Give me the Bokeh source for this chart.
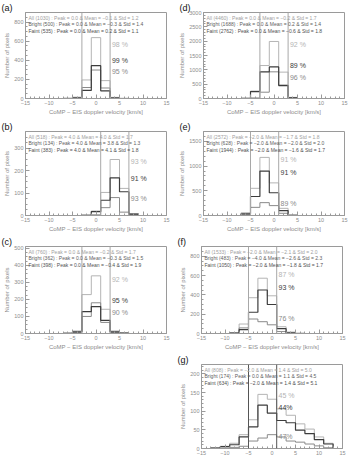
from bokeh.plotting import figure
from bokeh.layouts import column, row, Spacer
from bokeh.models import FixedTicker, Span, Label
from bokeh.core.properties import value
from bokeh.embed import file_html
from bokeh.resources import INLINE

# ---------------- data ----------------
bin_centers = [-14, -12, -10, -8, -6, -4, -2, 0, 2, 4, 6, 8, 10, 12, 14]
x_ticks = [-15, -10, -5, 0, 5, 10, 15]
x_label = "CoMP − EIS doppler velocity [km/s]"
y_label = "Number of pixels"

a_all    = [0, 0, 0, 0, 2, 14, 194, 637, 187, 12, 1, 0, 0, 0, 0]
a_bright = [0, 0, 0, 0, 2, 10, 115, 298, 110, 8, 1, 0, 0, 0, 0]
a_faint  = [0, 0, 0, 0, 0, 3, 85, 343, 80, 3, 0, 0, 0, 0, 0]
a_legend = ["All (1030) : Peak = 0.0 & Mean = −0.1 & Std = 1.2",
            "Bright (500) : Peak = 0.0 & Mean = −0.3 & Std = 1.4",
            "Faint (535) : Peak = 0.0 & Mean = 0.2 & Std = 1.1"]
a_pct = ["98 %", "99 %", "95 %"]
a_pct_y = [570, 395, 280]

b_all    = [0, 0, 0, 0, 0, 0, 2, 20, 103, 250, 121, 8, 0, 0, 0]
b_bright = [0, 0, 0, 0, 0, 0, 0, 3, 35, 80, 15, 2, 0, 0, 0]
b_faint  = [0, 0, 0, 0, 0, 0, 1, 17, 68, 168, 106, 6, 0, 0, 0]
b_legend = ["All (518) : Peak = 4.0 & Mean = 4.0 & Std = 1.7",
            "Bright (134) : Peak = 4.0 & Mean = 3.8 & Std = 1.3",
            "Faint (383) : Peak = 4.0 & Mean = 4.1 & Std = 1.8"]
b_pct = ["93 %", "91 %", "93 %"]
b_pct_y = [240, 164, 77]

c_all    = [0, 0, 0, 0, 2, 15, 228, 338, 142, 15, 3, 0, 0, 0, 0]
c_bright = [0, 0, 0, 0, 1, 5, 100, 180, 65, 5, 1, 0, 0, 0, 0]
c_faint  = [0, 0, 0, 0, 1, 10, 128, 158, 77, 10, 2, 0, 0, 0, 0]
c_legend = ["All (760) : Peak = 0.0 & Mean = −0.2 & Std = 1.7",
            "Bright (362) : Peak = 0.0 & Mean = −0.3 & Std = 1.5",
            "Faint (398) : Peak = 0.0 & Mean = −0.4 & Std = 1.9"]
c_pct = ["92 %", "95 %", "90 %"]
c_pct_y = [316, 192, 124]

d_all    = [0, 0, 0, 0, 5, 260, 1150, 1990, 920, 40, 0, 0, 0, 0, 0]
d_bright = [0, 0, 0, 0, 0, 20, 220, 930, 470, 20, 0, 0, 0, 0, 0]
d_faint  = [0, 0, 0, 0, 5, 240, 930, 1100, 450, 20, 0, 0, 0, 0, 0]
d_legend = ["All (4460) : Peak = 0.0 & Mean = −0.2 & Std = 1.7",
            "Bright (1688) : Peak = 0.0 & Mean = 0.2 & Std = 1.4",
            "Faint (2762) : Peak = 0.0 & Mean = −0.6 & Std = 1.8"]
d_pct = ["92 %", "89 %", "96 %"]
d_pct_y = [1870, 1140, 730]

e_all    = [0, 0, 0, 0, 55, 550, 1176, 660, 145, 8, 0, 0, 0, 0, 0]
e_bright = [0, 0, 0, 0, 20, 165, 260, 200, 45, 3, 0, 0, 0, 0, 0]
e_faint  = [0, 0, 0, 0, 35, 385, 900, 460, 100, 5, 0, 0, 0, 0, 0]
e_legend = ["All (2572) : Peak = −2.0 & Mean = −1.7 & Std = 1.8",
            "Bright (628) : Peak = −2.0 & Mean = −2.0 & Std = 2.0",
            "Faint (1944) : Peak = −2.0 & Mean = −1.6 & Std = 1.7"]
e_pct = ["91 %", "91 %", "89 %"]
e_pct_y = [1136, 862, 242]

f_all    = [0, 0, 0, 10, 98, 370, 572, 390, 70, 15, 2, 0, 0, 0, 0]
f_bright = [0, 0, 0, 8, 58, 150, 122, 90, 20, 10, 2, 0, 0, 0, 0]
f_faint  = [0, 0, 0, 2, 40, 220, 450, 300, 50, 5, 0, 0, 0, 0, 0]
f_legend = ["All (1533) : Peak = −2.0 & Mean = −2.1 & Std = 2.0",
            "Bright (483) : Peak = −4.0 & Mean = −2.6 & Std = 2.3",
            "Faint (1050) : Peak = −2.0 & Mean = −1.8 & Std = 1.7"]
f_pct = ["87 %", "93 %", "76 %"]
f_pct_y = [607, 477, 151]

g_all    = [0, 2, 6, 14, 37, 77, 145, 132, 106, 89, 66, 52, 31, 14, 0]
g_bright = [0, 0, 1, 3, 6, 20, 28, 37, 31, 20, 17, 12, 7, 2, 0]
g_faint  = [0, 1, 5, 10, 31, 58, 116, 95, 75, 69, 49, 40, 24, 12, 0]
g_legend = ["All (808) : Peak = −2.0 & Mean = 1.4 & Std = 5.0",
            "Bright (174) : Peak = 0.0 & Mean = 1.1 & Std = 4.5",
            "Faint (634) : Peak = −2.0 & Mean = 1.4 & Std = 5.1"]
g_pct = ["45 %", "44%", "47%"]
g_pct_y = [143, 110, 33]

# ---------------- style ----------------
FONT = "Liberation Sans"
LIGHT = "#b4b4b4"
MED = "#8a8a8a"
DARK = "#3c3c3c"
AXIS = "#9a9a9a"
VLINE = "#a8a8a8"


def make_panel(tag, all_v, bright_v, faint_v, peak, ymax, ytick_step, yminor_step,
               legend, pct, pct_y, top, fh, bottom, right, show_xlabel=True,
               vline_color=VLINE):
    p = figure(frame_width=141, frame_height=fh, title=tag,
               min_border_left=25, min_border_right=right,
               min_border_top=top, min_border_bottom=bottom,
               x_range=(-15, 15), y_range=(0, ymax),
               output_backend="svg", toolbar_location=None)
    p.title.align = "left"
    p.title.offset = -24
    p.title.standoff = 0
    p.title.text_font = FONT
    p.title.text_font_size = "9px"
    p.title.text_font_style = "normal"
    p.title.text_color = "#111111"
    p.title.text_line_height = 0.9
    p.xgrid.visible = False
    p.ygrid.visible = False
    p.outline_line_color = AXIS
    p.outline_line_width = 1

    yt = list(range(0, int(ymax) + 1, ytick_step))
    ym = list(range(0, int(ymax) + 1, yminor_step))
    p.xaxis.ticker = FixedTicker(ticks=x_ticks, minor_ticks=list(range(-15, 16)))
    p.yaxis.ticker = FixedTicker(ticks=yt, minor_ticks=ym)
    for ax in (p.xaxis[0], p.yaxis[0]):
        ax.axis_line_color = AXIS
        ax.major_tick_line_color = AXIS
        ax.minor_tick_line_color = AXIS
        ax.major_tick_in = 4
        ax.major_tick_out = 0
        ax.minor_tick_in = 2
        ax.minor_tick_out = 0
        ax.major_label_text_font = FONT
        ax.major_label_text_font_size = "5.5px"
        ax.major_label_text_color = "#8c8c8c"
        ax.major_label_standoff = 2
        ax.axis_label_text_font = FONT
        ax.axis_label_text_font_size = "6px"
        ax.axis_label_text_font_style = "normal"
        ax.axis_label_text_color = "#8c8c8c"
        ax.axis_label_standoff = 1
    p.xaxis.major_label_overrides = {t: str(t).replace("-", "−") for t in x_ticks}
    if show_xlabel:
        p.xaxis.axis_label = x_label
    p.yaxis.axis_label = y_label

    for loc in (peak - 3, peak + 3):
        p.add_layout(Span(location=loc, dimension="height", line_color=vline_color, line_width=1))

    p.step(x=bin_centers, y=all_v, mode="center", line_color=LIGHT, line_width=1)
    p.step(x=bin_centers, y=bright_v, mode="center", line_color=MED, line_width=1)
    p.step(x=bin_centers, y=faint_v, mode="center", line_color=DARK, line_width=1.2)

    leg_colors = ["#a0a0a0", "#606060", "#505050"]
    for i, (txt, col) in enumerate(zip(legend, leg_colors)):
        p.add_layout(Label(x=3, y=fh - 5 - 6.5 * i, x_units="screen", y_units="screen",
                           text=txt, text_font=FONT, text_font_size="5px",
                           text_color=col, text_baseline="middle"))

    pct_colors = [LIGHT, DARK, MED]
    p.text(x=[peak + 3.4] * 3, y=pct_y, text=pct, text_color=pct_colors,
           text_font=value(FONT), text_font_size="7px", text_baseline="middle")
    return p


pa = make_panel("(a)", a_all, a_bright, a_faint, 0, 900, 200, 50, a_legend, a_pct, a_pct_y,
                12, 86, 18, 10)
pd_ = make_panel("(d)", d_all, d_bright, d_faint, 0, 3000, 500, 100, d_legend, d_pct, d_pct_y,
                 12, 86, 18, 9)
pb = make_panel("(b)", b_all, b_bright, b_faint, 4, 375, 100, 25, b_legend, b_pct, b_pct_y,
                14, 84, 17, 10)
pe = make_panel("(e)", e_all, e_bright, e_faint, -2, 1700, 500, 100, e_legend, e_pct, e_pct_y,
                14, 84, 17, 9)
pc = make_panel("(c)", c_all, c_bright, c_faint, 0, 510, 100, 25, c_legend, c_pct, c_pct_y,
                12, 87, 19, 10)
pf = make_panel("(f)", f_all, f_bright, f_faint, -2, 900, 200, 50, f_legend, f_pct, f_pct_y,
                12, 87, 19, 9)
pg = make_panel("(g)", g_all, g_bright, g_faint, -2, 225, 50, 10, g_legend, g_pct, g_pct_y,
                12, 84, 13, 9, show_xlabel=False, vline_color="#555555")

layout = column(row(pa, pd_), row(pb, pe), row(pc, pf),
                row(Spacer(width=176, height=109), pg))

open("out.html", "w").write(file_html(layout, INLINE))
